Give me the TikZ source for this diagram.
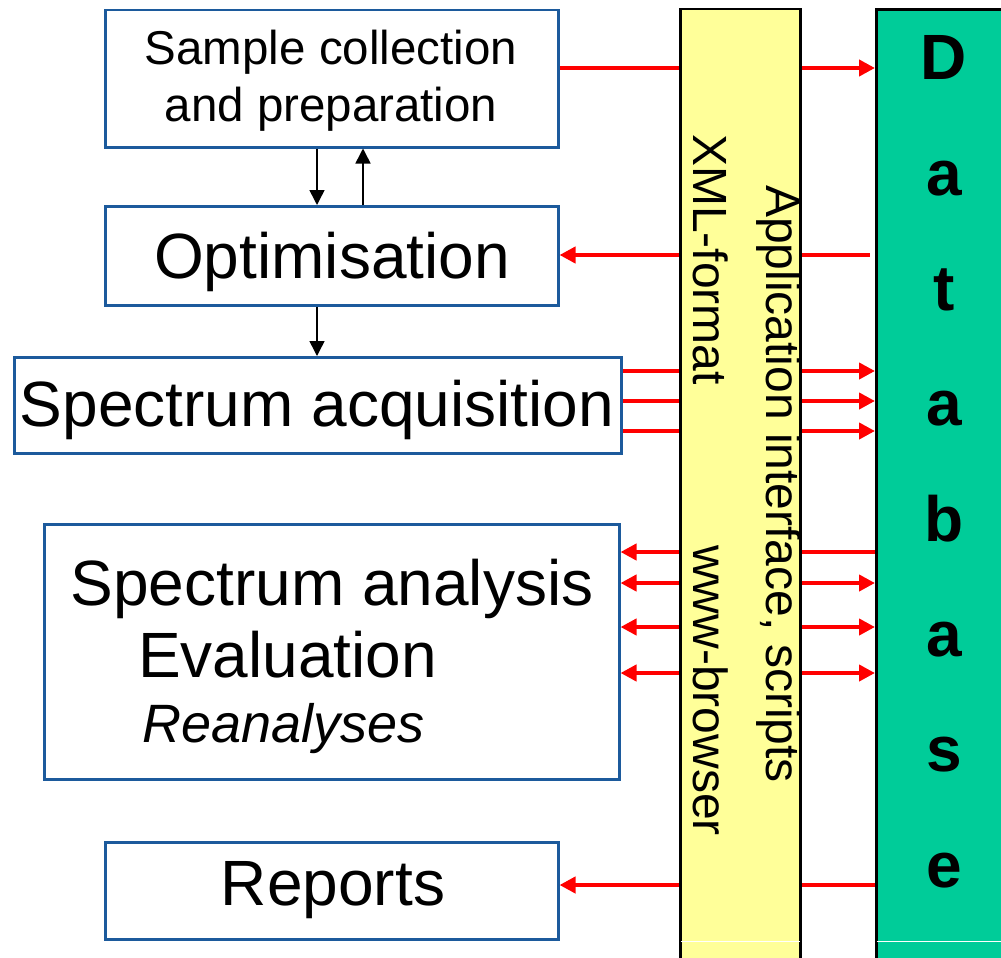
\documentclass[tikz,border=0pt]{standalone}
\usepackage{fontspec}
\setmainfont{Liberation Sans}
\usetikzlibrary{arrows.meta}
\definecolor{boxblue}{RGB}{28,90,156}
\definecolor{bandyellow}{RGB}{255,255,153}
\definecolor{dbgreen}{RGB}{0,204,153}
\begin{document}
\begin{tikzpicture}[x=1pt,y=-1pt,
  stepbox/.style={draw=boxblue,line width=2.5pt,fill=white,inner sep=0pt,anchor=north west},
  band/.style={draw=black,line width=2.5pt,fill=bandyellow,inner sep=0pt,anchor=north west},
  dbband/.style={draw=black,line width=3pt,fill=dbgreen,inner sep=0pt,anchor=north west},
  lbl/.style={inner sep=0pt,anchor=base},
  lblw/.style={inner sep=0pt,anchor=base west},
  bigtxt/.style={font=\fontsize{64}{70}\selectfont},
  midtxt/.style={font=\fontsize{47.5}{57}\selectfont},
  rottxt/.style={inner sep=0pt,anchor=base west,rotate=-90,font=\fontsize{48}{56}\selectfont},
  dbtxt/.style={inner sep=0pt,anchor=base,font=\fontsize{64}{70}\selectfont\bfseries},
  redline/.style={draw=red,line width=4.5pt},
  redarrow/.style={redline,-{Triangle[length=16pt,width=16pt]}},
  blackarrow/.style={draw=black,line width=1.5pt,-{Triangle[length=15pt,width=15pt]}}]
\useasboundingbox (0,0) rectangle (1001,958);

% bands
\node[band,minimum width=120pt,minimum height=975pt] (band) at (679,8) {};
\node[dbband,minimum width=150pt,minimum height=975pt] (db) at (875,8) {};

% boxes
\node[stepbox,minimum width=453pt,minimum height=137pt] (box1) at (104,9) {};
\node[stepbox,minimum width=453pt,minimum height=99pt] (box2) at (104,205) {};
\node[stepbox,minimum width=607pt,minimum height=96pt] (box3) at (13,356) {};
\node[stepbox,minimum width=575pt,minimum height=255pt] (box4) at (43,523) {};
\node[stepbox,minimum width=453pt,minimum height=97pt] (box5) at (104,841) {};

% box texts
\node[lbl,midtxt] (t1a) at (331,64) {Sample collection};
\node[lbl,midtxt] (t1b) at (331,121) {and preparation};
\node[lbl,bigtxt] (t2) at (332,278) {Optimisation};
\node[lbl,bigtxt] (t3) at (317,426) {Spectrum acquisition};
\node[lbl,bigtxt] (t4a) at (332,605) {Spectrum analysis};
\node[lblw,bigtxt] (t4b) at (138,677) {Evaluation};
\node[lblw,font=\fontsize{54}{60}\selectfont\itshape] (t4c) at (142,742) {Reanalyses};
\node[lbl,bigtxt] (t5) at (333,905) {Reports};

% band texts
\node[rottxt] (xml) at (693,134) {XML-format};
\node[rottxt] (www) at (693,545) {www-browser};
\node[rottxt] (api) at (766,185) {Application interface, scripts};

% database letters
\foreach \ch [count=\i from 0] in {D,a,t,a,b,a,s,e}
  \node[dbtxt] (dbl\i) at (944,80+115.3*\i) {\ch};

% thin white marks near the bottom of the bands
\coordinate (y941) at (0,941);
\draw[white,line width=1pt] ([xshift=1.5pt]band.west |- y941) -- ([xshift=-1.5pt]band.east |- y941);
\draw[white,line width=1pt] ([xshift=1.5pt]db.west |- y941) -- (1001,941);

% level coordinates
\coordinate (y68) at (0,68);
\coordinate (y255) at (0,255);
\coordinate (y371) at (0,371);
\coordinate (y401) at (0,401);
\coordinate (y431) at (0,431);
\coordinate (y552) at (0,552);
\coordinate (y583) at (0,583);
\coordinate (y627) at (0,627);
\coordinate (y673) at (0,673);
\coordinate (y885) at (0,885);
\coordinate (xa) at (317,0);
\coordinate (xb) at (363,0);

% black arrows
\draw[blackarrow] (box1.south -| xa) -- (box2.north -| xa);
\draw[blackarrow] (box2.north -| xb) -- (box1.south -| xb);
\draw[blackarrow] (box2.south -| xa) -- (box3.north -| xa);

% red connectors, left side
\draw[redline] (box1.east |- y68) -- (band.west |- y68);
\draw[redarrow] (band.west |- y255) -- (box2.east |- y255);
\draw[redline] (box3.east |- y371) -- (band.west |- y371);
\draw[redline] (box3.east |- y401) -- (band.west |- y401);
\draw[redline] (box3.east |- y431) -- (band.west |- y431);
\draw[redarrow] (band.west |- y552) -- (box4.east |- y552);
\draw[redarrow] (band.west |- y583) -- (box4.east |- y583);
\draw[redarrow] (band.west |- y627) -- (box4.east |- y627);
\draw[redarrow] (band.west |- y673) -- (box4.east |- y673);
\draw[redarrow] (band.west |- y885) -- (box5.east |- y885);

% red connectors, right side
\draw[redarrow] (band.east |- y68) -- (db.west |- y68);
\draw[redline] (band.east |- y255) -- ([xshift=-5pt]db.west |- y255);
\draw[redarrow] (band.east |- y371) -- (db.west |- y371);
\draw[redarrow] (band.east |- y401) -- (db.west |- y401);
\draw[redarrow] (band.east |- y431) -- (db.west |- y431);
\draw[redline] (band.east |- y552) -- (db.west |- y552);
\draw[redarrow] (band.east |- y583) -- (db.west |- y583);
\draw[redarrow] (band.east |- y627) -- (db.west |- y627);
\draw[redarrow] (band.east |- y673) -- (db.west |- y673);
\draw[redline] (band.east |- y885) -- (db.west |- y885);
\end{tikzpicture}
\end{document}
